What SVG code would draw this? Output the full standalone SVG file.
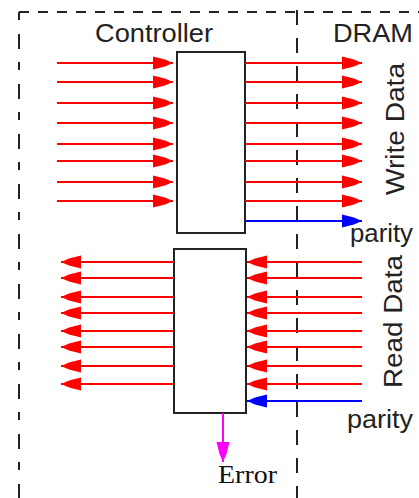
<svg xmlns="http://www.w3.org/2000/svg" width="419" height="498" viewBox="0 0 419 498">
<style>
.dash{stroke:#222;stroke-width:2;fill:none}
.box{fill:#fff;stroke:#222;stroke-width:2}
.lbl{font-family:"Liberation Sans",Arial,sans-serif;font-size:26px;fill:#222}
.ser{font-family:"Liberation Serif","Times New Roman",serif;font-size:25px;fill:#111}
.r{stroke:#ff0000;stroke-width:2}
.b{stroke:#0000ff;stroke-width:2}
.m{stroke:#ff00ff;stroke-width:2}
</style>
<defs>
<marker id="ar" markerUnits="userSpaceOnUse" markerWidth="22" markerHeight="14" refX="20" refY="7" orient="auto" viewBox="0 0 22 14"><path d="M0,0.5 L12,3.5 L20,7 L12,10.5 L0,13.5 z" fill="#ff0000"/></marker>
<marker id="ab" markerUnits="userSpaceOnUse" markerWidth="22" markerHeight="14" refX="20" refY="7" orient="auto" viewBox="0 0 22 14"><path d="M0,0.5 L12,3.5 L20,7 L12,10.5 L0,13.5 z" fill="#0000ff"/></marker>
<marker id="am" markerUnits="userSpaceOnUse" markerWidth="22" markerHeight="14" refX="20" refY="7" orient="auto" viewBox="0 0 22 14"><path d="M0,0.5 L12,3.5 L20,7 L12,10.5 L0,13.5 z" fill="#ff00ff"/></marker>
</defs>
<rect width="419" height="498" fill="#fff"/>
<g id="frame">
<line class="dash" x1="19" y1="12" x2="419" y2="12" stroke-dasharray="10 9"/>
<line class="dash" x1="19" y1="12" x2="19" y2="498" stroke-dasharray="8 14 15 13" />
<line class="dash" x1="297" y1="10" x2="297" y2="498" stroke-dasharray="15 13"/>
<text class="lbl" x="95" y="42" textLength="118" lengthAdjust="spacingAndGlyphs">Controller</text>
<text class="lbl" x="333" y="42" textLength="80" lengthAdjust="spacingAndGlyphs">DRAM</text>
</g>
<g id="write-box"><rect class="box" x="177" y="52" width="68" height="181"/></g>
<g id="read-box"><rect class="box" x="174" y="249" width="72" height="164"/></g>
<g id="labels">
<text class="lbl" transform="translate(404,195) rotate(-90)" textLength="132" lengthAdjust="spacingAndGlyphs">Write Data</text>
<text class="lbl" transform="translate(402,388) rotate(-90)" textLength="133" lengthAdjust="spacingAndGlyphs">Read Data</text>
<text class="lbl" x="350" y="242" textLength="63" lengthAdjust="spacingAndGlyphs">parity</text>
<text class="lbl" x="347" y="428" textLength="66" lengthAdjust="spacingAndGlyphs">parity</text>
<text class="ser" x="218" y="483" textLength="59" lengthAdjust="spacingAndGlyphs">Error</text>
</g>
<g id="connectors">
<line class="r" x1="57" y1="63" x2="173" y2="63" marker-end="url(#ar)"/>
<line class="r" x1="57" y1="82" x2="173" y2="82" marker-end="url(#ar)"/>
<line class="r" x1="57" y1="103" x2="173" y2="103" marker-end="url(#ar)"/>
<line class="r" x1="57" y1="123" x2="173" y2="123" marker-end="url(#ar)"/>
<line class="r" x1="57" y1="144" x2="173" y2="144" marker-end="url(#ar)"/>
<line class="r" x1="57" y1="161" x2="173" y2="161" marker-end="url(#ar)"/>
<line class="r" x1="57" y1="182" x2="173" y2="182" marker-end="url(#ar)"/>
<line class="r" x1="57" y1="201" x2="173" y2="201" marker-end="url(#ar)"/>
<line class="r" x1="245" y1="63" x2="362" y2="63" marker-end="url(#ar)"/>
<line class="r" x1="245" y1="82" x2="362" y2="82" marker-end="url(#ar)"/>
<line class="r" x1="245" y1="103" x2="362" y2="103" marker-end="url(#ar)"/>
<line class="r" x1="245" y1="123" x2="362" y2="123" marker-end="url(#ar)"/>
<line class="r" x1="245" y1="144" x2="362" y2="144" marker-end="url(#ar)"/>
<line class="r" x1="245" y1="161" x2="362" y2="161" marker-end="url(#ar)"/>
<line class="r" x1="245" y1="182" x2="362" y2="182" marker-end="url(#ar)"/>
<line class="r" x1="245" y1="201" x2="362" y2="201" marker-end="url(#ar)"/>
<line class="b" x1="245" y1="221" x2="362" y2="221" marker-end="url(#ab)"/>
<line class="r" x1="174" y1="262" x2="61" y2="262" marker-end="url(#ar)"/>
<line class="r" x1="174" y1="278" x2="61" y2="278" marker-end="url(#ar)"/>
<line class="r" x1="174" y1="297" x2="61" y2="297" marker-end="url(#ar)"/>
<line class="r" x1="174" y1="313" x2="61" y2="313" marker-end="url(#ar)"/>
<line class="r" x1="174" y1="331" x2="61" y2="331" marker-end="url(#ar)"/>
<line class="r" x1="174" y1="347" x2="61" y2="347" marker-end="url(#ar)"/>
<line class="r" x1="174" y1="366" x2="61" y2="366" marker-end="url(#ar)"/>
<line class="r" x1="174" y1="384" x2="61" y2="384" marker-end="url(#ar)"/>
<line class="r" x1="362" y1="262" x2="247" y2="262" marker-end="url(#ar)"/>
<line class="r" x1="362" y1="278" x2="247" y2="278" marker-end="url(#ar)"/>
<line class="r" x1="362" y1="297" x2="247" y2="297" marker-end="url(#ar)"/>
<line class="r" x1="362" y1="313" x2="247" y2="313" marker-end="url(#ar)"/>
<line class="r" x1="362" y1="331" x2="247" y2="331" marker-end="url(#ar)"/>
<line class="r" x1="362" y1="347" x2="247" y2="347" marker-end="url(#ar)"/>
<line class="r" x1="362" y1="366" x2="247" y2="366" marker-end="url(#ar)"/>
<line class="r" x1="362" y1="384" x2="247" y2="384" marker-end="url(#ar)"/>
<line class="b" x1="362" y1="401" x2="247" y2="401" marker-end="url(#ab)"/>
<line class="m" x1="223" y1="413" x2="223" y2="462" marker-end="url(#am)"/>
</g>
</svg>
